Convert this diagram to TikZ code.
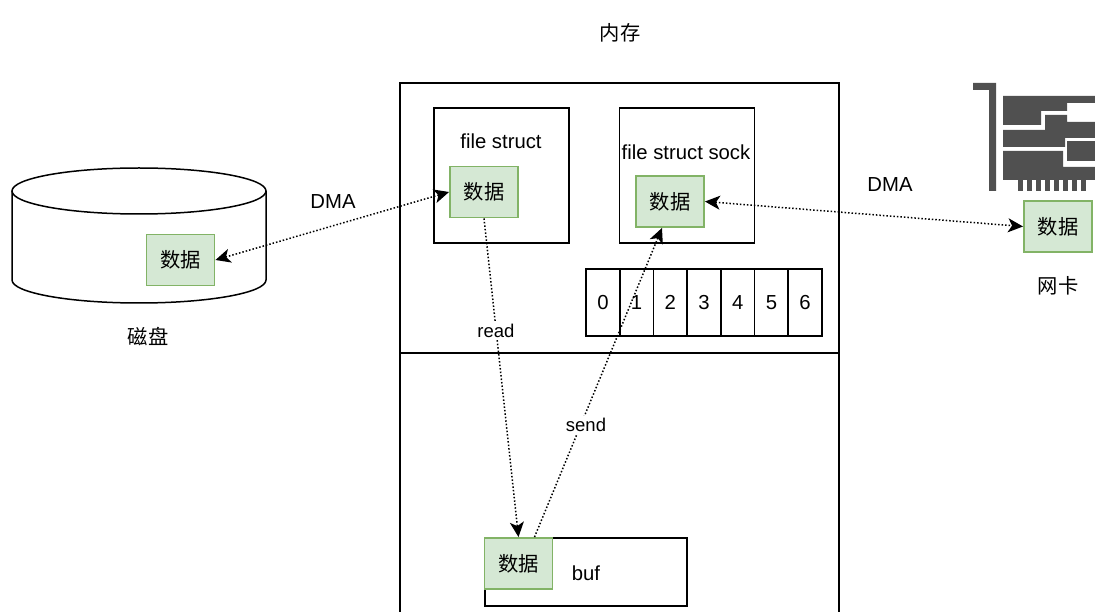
\documentclass[tikz,border=0pt]{standalone}
\usepackage{fontspec}
\setmainfont{Liberation Sans}
\newfontfamily\cjk{Noto Sans CJK SC}
\usetikzlibrary{arrows.meta}
\definecolor{datafill}{HTML}{D5E8D4}
\definecolor{dataline}{HTML}{82B366}
\definecolor{nicgray}{HTML}{505050}
\tikzset{
    every node/.style={font=\fontsize{20.3}{24}\selectfont, inner sep=0pt},
    box/.style={draw, line width=1.8pt},
    databox/.style={draw=dataline, fill=datafill, line width=1.9pt, minimum width=68pt, minimum height=51pt, font=\fontsize{20.3}{24}\selectfont\cjk},
    link/.style={line width=1.5pt, dotted, >={Stealth[length=15pt,width=14pt,inset=4pt]}}
}
\begin{document}
\begin{tikzpicture}[x=1pt,y=-1pt]
    \useasboundingbox (0,0) rectangle (1095,612);
    \clip (0,0) rectangle (1095,612);
    % disk
    \draw [line width=1.5pt] (12,191) -- (12,280) arc [x radius=127, y radius=23, start angle=180, end angle=0] -- (266,191);
    \draw [line width=1.5pt] (139,191) ellipse [x radius=127, y radius=23];
    \node (diskname) at (148,337) {\cjk 磁盘};
    % memory
    \node (memname) at (620,33) {\cjk 内存};
    \node [box, minimum width=439pt, minimum height=270pt] (memtop) at (619.5,218) {};
    \node [box, minimum width=439pt, minimum height=300pt] (membottom) at (619.5,503) {};
    \node [box, minimum width=135pt, minimum height=135pt] (filebox) at (501.5,175.5) {};
    \node [box, minimum width=135pt, minimum height=135pt] (sockbox) at (687,175.5) {};
    \node (filename) at (501,141) {file struct};
    \node (sockname) at (686,152) {file struct sock};
    \foreach \i in {0,...,6}
        {\node [box, minimum width=33.7pt, minimum height=67pt] (cell\i) at (602.9+33.7*\i,302.5) {\i};}
    \node [box, minimum width=202pt, minimum height=68pt] (bufbox) at (586,572) {};
    \node (bufname) at (586,573) {buf};
    % network card
    \fill [nicgray] (973,83) -- (996,83) -- (996,191) -- (989,191) -- (989,90) -- (973,90) -- cycle;
    \fill [nicgray] (1003,96) -- (1095,96) -- (1095,103) -- (1067,103) -- (1067,111) -- (1041,111) -- (1041,125) -- (1003,125) -- cycle;
    \fill [nicgray] (1003,130) -- (1045,130) -- (1045,115) -- (1067,115) -- (1067,122) -- (1095,122) -- (1095,138) -- (1065,138) -- (1065,147) -- (1003,147) -- cycle;
    \fill [nicgray] (1003,151) -- (1063,151) -- (1063,167) -- (1095,167) -- (1095,180) -- (1003,180) -- cycle;
    \fill [nicgray] (1067,141) rectangle (1095,161);
    \foreach \x in {0,...,7}
        {\fill [nicgray] (1018+9*\x,180) rectangle (1023+9*\x,191);}
    \node (nicname) at (1058,286) {\cjk 网卡};
    % data blocks
    \node [databox] (diskdata) at (180.5,260) {数据};
    \node [databox] (filedata) at (484,192) {数据};
    \node [databox] (sockdata) at (670,201.5) {数据};
    \node [databox] (nicdata) at (1058,226.5) {数据};
    \node [databox] (bufdata) at (518.5,563.5) {数据};
    % links
    \draw [link, <->] (diskdata.east) -- (filedata.west);
    \draw [link, <->] (sockdata.east) -- (nicdata.west);
    \draw [link, ->] (filedata.south) -- (bufdata.north);
    \draw [link, ->] ([xshift=16pt]bufdata.north) -- ([xshift=-8pt]sockdata.south);
    \node (dmaleft) at (333,202) {DMA};
    \node (dmaright) at (890,185) {DMA};
    \node [fill=white, inner sep=2pt, font=\fontsize{18.5}{22}\selectfont] (readname) at (496,331) {read};
    \node [fill=white, inner sep=2pt, font=\fontsize{18.5}{22}\selectfont] (sendname) at (586,425) {send};
\end{tikzpicture}
\end{document}
